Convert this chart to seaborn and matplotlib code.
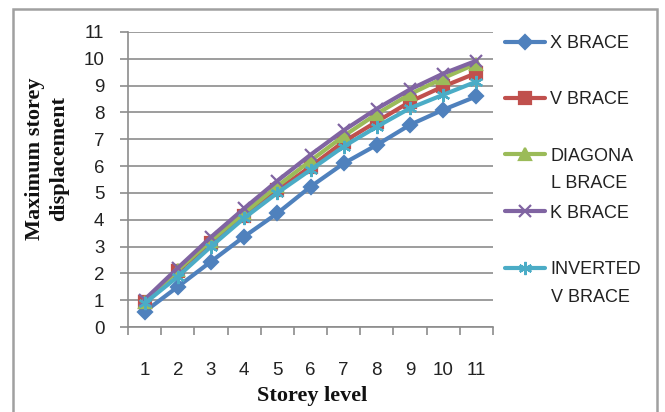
import matplotlib
matplotlib.use("Agg")
import matplotlib.pyplot as plt
from matplotlib.lines import Line2D
from matplotlib.patches import Rectangle
import numpy as np
import pandas as pd
import seaborn as sns

# Storey levels and maximum storey displacement for each bracing system
storeys = [1, 2, 3, 4, 5, 6, 7, 8, 9, 10, 11]
x_brace = [0.57, 1.50, 2.44, 3.37, 4.24, 5.23, 6.10, 6.79, 7.54, 8.10, 8.60]
v_brace = [0.94, 2.10, 3.12, 4.15, 5.10, 5.98, 6.91, 7.66, 8.40, 8.97, 9.47]
diagonal_brace = [0.92, 2.12, 3.22, 4.25, 5.25, 6.20, 7.12, 7.95, 8.68, 9.28, 9.82]
k_brace = [1.02, 2.20, 3.35, 4.42, 5.45, 6.42, 7.33, 8.14, 8.86, 9.45, 9.93]
inv_v_brace = [0.88, 1.88, 3.00, 4.06, 5.00, 5.86, 6.73, 7.47, 8.16, 8.66, 9.15]

series_names = ["X BRACE", "V BRACE", "DIAGONAL BRACE", "K BRACE", "INVERTED V BRACE"]
legend_lines = [["X BRACE"], ["V BRACE"], ["DIAGONA", "L BRACE"], ["K BRACE"],
                ["INVERTED", "V BRACE"]]
y_ticks = list(range(0, 12))

colors = ["#4F81BD", "#C0504D", "#9BBB59", "#8064A2", "#4BACC6"]
markers = ["D", "s", "^", "x", (6, 2, 0)]
msizes = [7.5, 8, 8.5, 8.5, 9.5]

df = pd.DataFrame({
    "storey": storeys * 5,
    "disp": x_brace + v_brace + diagonal_brace + k_brace + inv_v_brace,
    "series": sum([[n] * len(storeys) for n in series_names], []),
})

sns.set_theme(style="white")
plt.rcParams["font.family"] = ["Liberation Sans", "DejaVu Sans"]

TXT = "#222222"
GRID = "#8c8c8c"
TICK_FS = 13.5
LW = 3.0

fig = plt.figure(figsize=(6.65, 4.12), dpi=100)
ax = fig.add_axes([128 / 665, 1 - 327 / 412, (493 - 128) / 665, (327 - 32) / 412])

for name, col, mk, ms in zip(series_names, colors, markers, msizes):
    sub = df[df["series"] == name]
    sns.lineplot(data=sub, x="storey", y="disp", ax=ax, color=col, linewidth=LW,
                 marker=mk, markersize=ms, markeredgecolor=col,
                 markeredgewidth=1.6, legend=False)

ax.set_xlim(0.5, 11.5)
ax.set_ylim(0, 11)
ax.set_yticks(y_ticks)
ax.set_xticks(storeys)
ax.set_xticks(np.arange(0.5, 12, 1), minor=True)
ax.yaxis.grid(True, color=GRID, linewidth=1.2)
ax.set_axisbelow(True)
for s in ["top", "right"]:
    ax.spines[s].set_visible(False)
for s in ["left", "bottom"]:
    ax.spines[s].set_color(GRID)
    ax.spines[s].set_linewidth(1.2)
ax.tick_params(axis="y", which="major", left=True, length=6, width=1.2,
               color=GRID, labelsize=TICK_FS, pad=11, labelcolor=TXT)
ax.tick_params(axis="x", which="major", bottom=False, length=0,
               labelsize=TICK_FS, pad=25, labelcolor=TXT)
ax.tick_params(axis="x", which="minor", bottom=True, length=6, width=1.2,
               color=GRID)

ax.set_xlabel("")
ax.set_ylabel("")
fig.text(312 / 665, 1 - 396 / 412, "Storey level", ha="center", va="center",
         fontsize=16, fontweight="bold", family="Liberation Serif", color="#111111")
fig.text(47 / 665, 1 - 159 / 412, "Maximum storey\ndisplacement", ha="center",
         va="center", rotation=90, fontsize=16, fontweight="bold",
         family="Liberation Serif", linespacing=1.3, color="#111111")

# Legend: one handle per bracing system, continuation lines as plain text
legend_y = [44, 100, 156, 213, 270]
for lines, col, mk, ms, yy in zip(legend_lines, colors, markers, msizes, legend_y):
    h = Line2D([], [], color=col, linewidth=LW, marker=mk, markersize=ms,
               markeredgecolor=col, markeredgewidth=1.6)
    leg = fig.legend([h], [lines[0]], loc="center left",
                     bbox_to_anchor=(505 / 665, 1 - yy / 412), frameon=False,
                     fontsize=13, handlelength=2.2, handletextpad=0.3,
                     borderpad=0, borderaxespad=0)
    for t in leg.get_texts():
        t.set_color(TXT)
    for i, extra in enumerate(lines[1:], start=1):
        fig.text(551 / 665, 1 - (yy + 28 * i) / 412, extra, ha="left",
                 va="center", fontsize=13, color=TXT)

# Chart frame
fig.patches.append(Rectangle((12.5 / 665, -0.05), (657 - 12.5) / 665,
                             1 - 8.5 / 412 + 0.05, transform=fig.transFigure,
                             fill=False, edgecolor="#a0a0a0", linewidth=1.8))

fig.savefig("out.png", dpi=100)
